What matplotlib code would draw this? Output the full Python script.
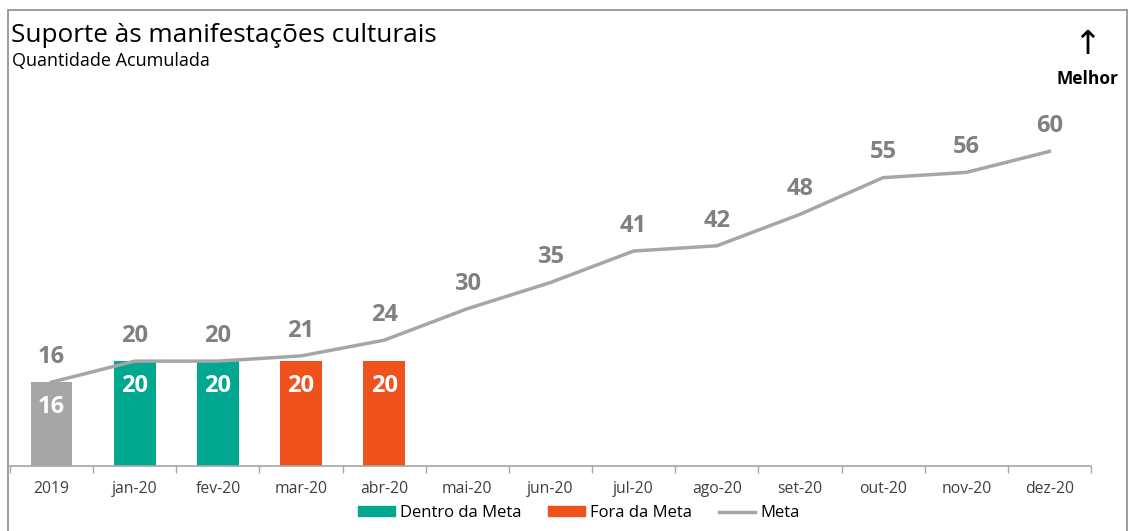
import matplotlib
matplotlib.use("Agg")
import matplotlib.pyplot as plt
from matplotlib.patches import Rectangle
from matplotlib.lines import Line2D
import numpy as np

plt.rcParams['font.family'] = ['Open Sans', 'DejaVu Sans']

categories = ["2019", "jan-20", "fev-20", "mar-20", "abr-20", "mai-20", "jun-20",
              "jul-20", "ago-20", "set-20", "out-20", "nov-20", "dez-20"]
meta = [16, 20, 20, 21, 24, 30, 35, 41, 42, 48, 55, 56, 60]
realizado = [16, 20, 20, 20, 20]
status = ["base", "dentro", "dentro", "fora", "fora"]

c_teal = "#00A88F"
c_orange = "#F0521E"
c_gray_bar = "#A6A6A6"
c_line = "#A6A6A6"
c_lab = "#808080"
colors = {"base": c_gray_bar, "dentro": c_teal, "fora": c_orange}

W, H = 1130, 531
fig = plt.figure(figsize=(W / 100, H / 100), dpi=100)
ax = fig.add_axes([10 / W, 1 - 466 / H, 1081 / W, 367 / H])

x = np.arange(len(categories))
for i, (v, s) in enumerate(zip(realizado, status)):
    ax.bar(x[i], v, width=0.5, color=colors[s], zorder=2)
    ax.text(x[i], v - 4.8, str(v), ha="center", va="center", color="white",
            fontsize=17, fontweight="bold", zorder=4)

ax.plot(x, meta, color=c_line, lw=2.5, zorder=3)
for i, v in enumerate(meta):
    ax.text(x[i], v + 4.8, str(v), ha="center", va="center", color=c_lab,
            fontsize=17, fontweight="bold", zorder=4)

ax.set_xlim(-0.5, len(categories) - 0.5)
ax.set_ylim(0, 70)
ax.set_yticks([])
ax.set_xticks(x)
ax.set_xticklabels(categories, fontsize=11.3, color="#404040")
ax.set_xticks(np.arange(len(categories) + 1) - 0.5, minor=True)
ax.tick_params(axis="x", which="major", length=0, pad=11)
ax.tick_params(axis="x", which="minor", length=5, color="#A6A6A6", width=1)
for sp in ["top", "right", "left"]:
    ax.spines[sp].set_visible(False)
ax.spines["bottom"].set_color("#A6A6A6")
ax.spines["bottom"].set_linewidth(1.2)

# figure frame
fig.patches.append(Rectangle((8 / W, -0.01), (1127 - 8) / W, 1 - 10 / H + 0.01,
                             transform=fig.transFigure, fill=False,
                             edgecolor="#8C8C8C", lw=1.2))

fig.text(11 / W, 1 - 35 / H, "Suporte às manifestações culturais", fontsize=18.8,
         color="#000000", va="center", ha="left")
fig.text(12 / W, 1 - 61 / H, "Quantidade Acumulada", fontsize=13,
         color="#000000", va="center", ha="left")
fig.text(1087 / W, 1 - 44 / H, "↑", fontsize=24, ha="center", va="center",
         family=["DejaVu Sans"])
fig.text(1087 / W, 1 - 79 / H, "Melhor", fontsize=12.5, ha="center", va="center",
         fontweight="bold")

handles = [Rectangle((0, 0), 1, 1, color=c_teal),
           Rectangle((0, 0), 1, 1, color=c_orange),
           Line2D([0], [0], color=c_line, lw=2.5)]
fig.legend(handles, ["Dentro da Meta", "Fora da Meta", "Meta"], loc="center",
           bbox_to_anchor=(579 / W, 1 - 513 / H), ncol=3, frameon=False,
           fontsize=12, handlelength=2.2, handleheight=0.5, columnspacing=1.6,
           handletextpad=0.3)

fig.savefig("out.png", dpi=100)
